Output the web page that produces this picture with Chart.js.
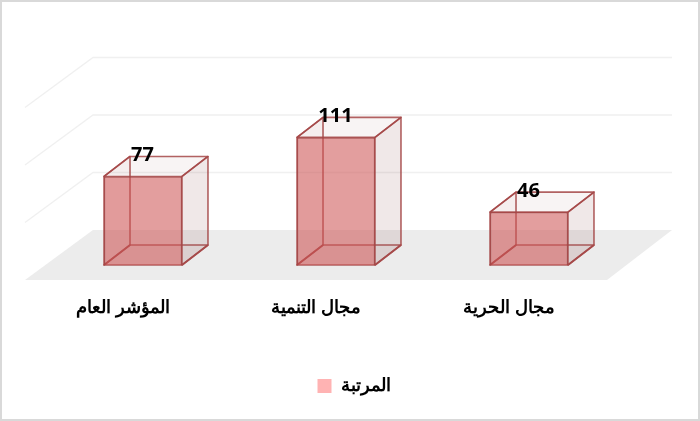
<!DOCTYPE html>
<html lang="ar">
<head>
<meta charset="utf-8">
<script src="https://cdn.jsdelivr.net/npm/chart.js@4"></script>
<style>html,body{margin:0;padding:0;background:#fff;overflow:hidden}canvas{display:block}</style>
</head>
<body>
<canvas id="c" width="700" height="421"></canvas>
<script>
const categories = ["المؤشر العام", "مجال التنمية", "مجال الحرية"];
const seriesName = "المرتبة";
const rankValues = [77, 111, 46];

const depthX = 26, depthY = 20;

const perspective = {
  id: "perspective",
  beforeDraw(chart) {
    const { ctx, width, height, chartArea: a, scales } = chart;
    const base = scales.y.getPixelForValue(0);
    ctx.save();
    ctx.fillStyle = "#fff";
    ctx.fillRect(0, 0, width, height);
    ctx.strokeStyle = "#d9d9d9";
    ctx.lineWidth = 2;
    ctx.strokeRect(1, 1, width - 2, height - 2);
    // floor
    ctx.fillStyle = "#ececec";
    ctx.beginPath();
    ctx.moveTo(a.left - 21.5, base + 15);
    ctx.lineTo(a.right - 18.5, base + 15);
    ctx.lineTo(a.right + 46.5, base - 35);
    ctx.lineTo(a.left + 46.5, base - 35);
    ctx.closePath();
    ctx.fill();
    // gridlines on the two walls
    ctx.strokeStyle = "#f0f0f0";
    ctx.lineWidth = 1.3;
    scales.y.ticks.forEach(t => {
      if (t.value === 0) return;
      const y = scales.y.getPixelForValue(t.value) - 35;
      ctx.beginPath();
      ctx.moveTo(a.left - 21.5, y + 50);
      ctx.lineTo(a.left + 46.5, y);
      ctx.lineTo(a.right + 46.5, y);
      ctx.stroke();
    });
    ctx.restore();
  },
  beforeDatasetsDraw(chart) {
    const { ctx } = chart;
    ctx.save();
    ctx.lineJoin = "round";
    chart.getDatasetMeta(0).data.forEach(bar => {
      const l = bar.x - bar.width / 2, r = bar.x + bar.width / 2, t = bar.y, b = bar.base;
      const face = (pts, fill) => {
        ctx.beginPath();
        pts.forEach((p, i) => i ? ctx.lineTo(p[0], p[1]) : ctx.moveTo(p[0], p[1]));
        ctx.closePath();
        ctx.fillStyle = fill;
        ctx.fill();
        ctx.strokeStyle = "rgba(165,70,70,0.85)";
        ctx.lineWidth = 1.6;
        ctx.stroke();
      };
      const dx = depthX, dy = depthY;
      face([[l, b], [l + dx, b - dy], [l + dx, t - dy], [l, t]], "rgba(150,70,70,0.03)");
      face([[l, b], [r, b], [r + dx, b - dy], [l + dx, b - dy]], "rgba(150,70,70,0.05)");
      face([[r, b], [r + dx, b - dy], [r + dx, t - dy], [r, t]], "rgba(120,50,50,0.11)");
      face([[l, t], [r, t], [r + dx, t - dy], [l + dx, t - dy]], "rgba(140,60,60,0.06)");
    });
    ctx.restore();
  },
  afterDatasetsDraw(chart) {
    const { ctx } = chart;
    ctx.save();
    ctx.fillStyle = "#000";
    ctx.font = "bold 20px 'Open Sans', sans-serif";
    ctx.textAlign = "center";
    ctx.textBaseline = "middle";
    chart.getDatasetMeta(0).data.forEach((bar, i) => {
      ctx.fillText(String(rankValues[i]), bar.x - 0.5, bar.y - 21);
    });
    ctx.restore();
  }
};

new Chart(document.getElementById("c"), {
  type: "bar",
  data: {
    labels: categories,
    datasets: [{
      label: seriesName,
      data: rankValues,
      backgroundColor: "rgba(205,85,85,0.57)",
      borderColor: "rgba(165,70,70,0.9)",
      borderWidth: 1.4,
      categoryPercentage: 1,
      barPercentage: 0.404
    }]
  },
  plugins: [perspective],
  options: {
    responsive: false,
    animation: false,
    devicePixelRatio: 1,
    layout: { padding: { top: 92.5, left: 8, right: 0, bottom: 16 } },
    scales: {
      x: {
        grid: { display: false },
        border: { display: false },
        ticks: { color: "#000", padding: 24, labelOffset: -20, font: { family: "'Liberation Sans', Arial, sans-serif", size: 18, weight: "bold" } },
        afterFit(s) { s.height = 102; }
      },
      y: {
        min: 0, max: 150,
        grid: { display: false },
        border: { display: false },
        ticks: { display: false, stepSize: 50 },
        afterFit(s) { s.width = 38.5; }
      },
      yr: {
        position: "right",
        min: 0, max: 150,
        grid: { display: false },
        border: { display: false },
        ticks: { display: false },
        afterFit(s) { s.width = 74.5; }
      }
    },
    plugins: {
      tooltip: { enabled: false },
      legend: {
        position: "bottom",
        labels: {
          boxWidth: 14, boxHeight: 14, padding: 10, color: "#000",
          font: { family: "'Liberation Sans', Arial, sans-serif", size: 18, weight: "bold" },
          generateLabels: () => [{ text: seriesName, fillStyle: "#ffb3b3", strokeStyle: "#ffb3b3", lineWidth: 0, datasetIndex: 0 }]
        }
      }
    }
  }
});
</script>
</body>
</html>
